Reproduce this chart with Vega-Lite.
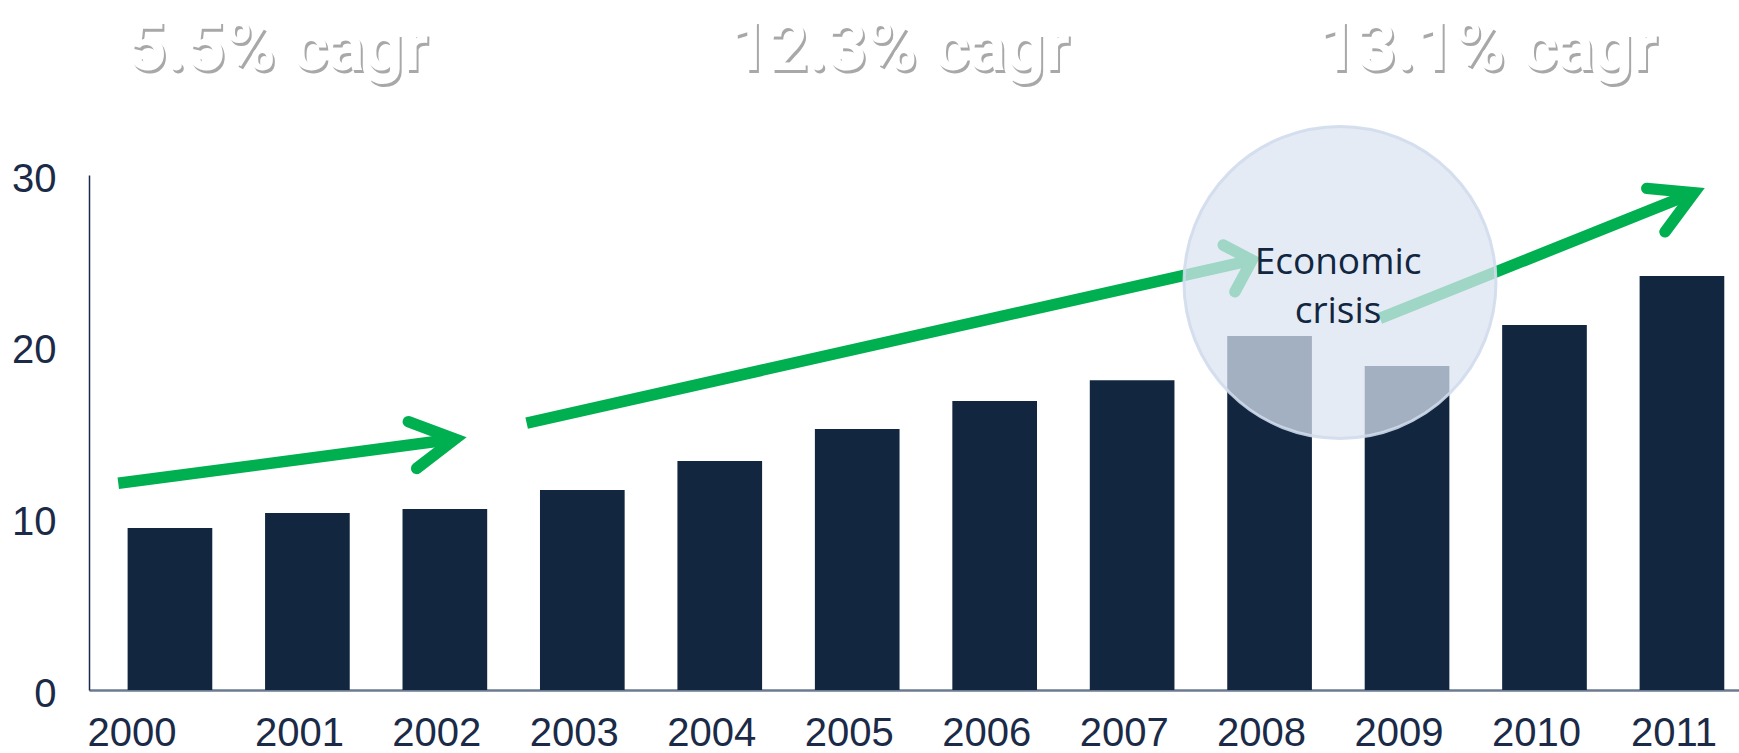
{
  "$schema": "https://vega.github.io/schema/vega-lite/v6.json",
  "autosize": {"type": "none"},
  "padding": {"left": 89, "top": 175, "right": 0, "bottom": 63},
  "width": 1650,
  "height": 515,
  "background": "#ffffff",
  "config": {"view": {"stroke": null}},
  "datasets": {
    "bars": [
      {"year": "2000", "v": 9.43},
      {"year": "2001", "v": 10.31},
      {"year": "2002", "v": 10.54},
      {"year": "2003", "v": 11.65},
      {"year": "2004", "v": 13.34},
      {"year": "2005", "v": 15.2},
      {"year": "2006", "v": 16.83},
      {"year": "2007", "v": 18.05},
      {"year": "2008", "v": 20.62},
      {"year": "2009", "v": 18.87},
      {"year": "2010", "v": 21.26},
      {"year": "2011", "v": 24.11}
    ],
    "shafts": [
      {"seg": "a1", "o": 1, "xp": 1999.624, "v": 12.04},
      {"seg": "a1", "o": 2, "xp": 2002.073, "v": 14.62},
      {"seg": "a2", "o": 1, "xp": 2002.595, "v": 15.55},
      {"seg": "a2", "o": 2, "xp": 2007.872, "v": 25.04},
      {"seg": "a3", "o": 1, "xp": 2008.803, "v": 21.65},
      {"seg": "a3", "o": 2, "xp": 2011.088, "v": 28.97}
    ],
    "heads": [
      {"seg": "a1", "o": 1, "xp": 2001.734, "v": 15.63},
      {"seg": "a1", "o": 2, "xp": 2002.073, "v": 14.62},
      {"seg": "a1", "o": 3, "xp": 2001.795, "v": 12.91},
      {"seg": "a2", "o": 1, "xp": 2007.663, "v": 25.92},
      {"seg": "a2", "o": 2, "xp": 2007.872, "v": 25.04},
      {"seg": "a2", "o": 3, "xp": 2007.748, "v": 23.2},
      {"seg": "a3", "o": 1, "xp": 2010.744, "v": 29.22},
      {"seg": "a3", "o": 2, "xp": 2011.088, "v": 28.97},
      {"seg": "a3", "o": 3, "xp": 2010.877, "v": 26.69}
    ],
    "circle": [{"xp": 2008.512, "v": 23.74}],
    "crisis": [{"xp": 2008.498, "v": 24.87, "t": "Economic\ncrisis"}],
    "titles": [
      {"xp": 2000.786, "v": 36.12, "t": "5.5% cagr"},
      {"xp": 2005.311, "v": 36.12, "t": "12.3% cagr"},
      {"xp": 2009.589, "v": 36.12, "t": "13.1% cagr"}
    ]
  },
  "resolve": {"scale": {"x": "independent"}, "axis": {"x": "independent"}},
  "layer": [
    {
      "data": {"name": "bars"},
      "mark": {"type": "bar", "color": "#12263f"},
      "encoding": {
        "x": {
          "field": "year", "type": "ordinal",
          "scale": {"paddingInner": 0.384, "paddingOuter": 0.194, "align": 0.724, "round": false},
          "axis": {
            "title": null, "ticks": false, "labelAngle": 0,
            "labelFont": "Liberation Sans", "labelFontSize": 40, "labelColor": "#1b2a47",
            "labelBaseline": "alphabetic", "labelPadding": 55,
            "labelOffset": {"condition": {"test": "datum.label == '2000'", "value": -38}, "value": -8},
            "domainColor": "#6b7a90", "domainWidth": 2.5
          }
        },
        "y": {
          "field": "v", "type": "quantitative",
          "scale": {"domain": [0, 30], "nice": false},
          "axis": {
            "title": null, "values": [0, 10, 20, 30], "ticks": false, "grid": false,
            "labelFont": "Liberation Sans", "labelFontSize": 40, "labelColor": "#1b2a47",
            "labelPadding": 33, "labelOffset": 4,
            "domainColor": "#1b2a47", "domainWidth": 1.5
          }
        }
      }
    },
    {
      "data": {"name": "shafts"},
      "mark": {"type": "line", "color": "#00b050", "strokeWidth": 11.5, "strokeCap": "butt"},
      "encoding": {
        "x": {"field": "xp", "type": "quantitative", "scale": {"domain": [1999.411, 2011.415], "nice": false, "zero": false}, "axis": null},
        "y": {"field": "v", "type": "quantitative", "scale": {"domain": [0, 30], "nice": false}},
        "detail": {"field": "seg"},
        "order": {"field": "o"}
      }
    },
    {
      "data": {"name": "heads"},
      "mark": {"type": "line", "color": "#00b050", "strokeWidth": 11.5, "strokeCap": "round", "strokeJoin": "miter"},
      "encoding": {
        "x": {"field": "xp", "type": "quantitative", "scale": {"domain": [1999.411, 2011.415], "nice": false, "zero": false}, "axis": null},
        "y": {"field": "v", "type": "quantitative", "scale": {"domain": [0, 30], "nice": false}},
        "detail": {"field": "seg"},
        "order": {"field": "o"}
      }
    },
    {
      "data": {"name": "circle"},
      "mark": {"type": "point", "shape": "circle", "filled": true, "size": 97344, "fill": "#dae3f1", "fillOpacity": 0.73, "stroke": "#d0dcec", "strokeWidth": 3, "strokeOpacity": 0.9},
      "encoding": {
        "x": {"field": "xp", "type": "quantitative", "scale": {"domain": [1999.411, 2011.415], "nice": false, "zero": false}, "axis": null},
        "y": {"field": "v", "type": "quantitative", "scale": {"domain": [0, 30], "nice": false}}
      }
    },
    {
      "data": {"name": "crisis"},
      "mark": {"type": "text", "font": "Open Sans", "fontSize": 37, "color": "#12263f", "lineBreak": "\n", "lineHeight": 49, "align": "center", "baseline": "middle"},
      "encoding": {
        "x": {"field": "xp", "type": "quantitative", "scale": {"domain": [1999.411, 2011.415], "nice": false, "zero": false}, "axis": null},
        "y": {"field": "v", "type": "quantitative", "scale": {"domain": [0, 30], "nice": false}},
        "text": {"field": "t"}
      }
    },
    {
      "data": {"name": "titles"},
      "mark": {"type": "text", "font": "Roboto", "fontWeight": "bold", "fontSize": 68, "color": "#8c8c8c", "opacity": 0.75, "dx": 2, "dy": 3, "align": "center", "baseline": "alphabetic"},
      "encoding": {
        "x": {"field": "xp", "type": "quantitative", "scale": {"domain": [1999.411, 2011.415], "nice": false, "zero": false}, "axis": null},
        "y": {"field": "v", "type": "quantitative", "scale": {"domain": [0, 30], "nice": false}},
        "text": {"field": "t"}
      }
    },
    {
      "data": {"name": "titles"},
      "mark": {"type": "text", "font": "Roboto", "fontWeight": "bold", "fontSize": 68, "color": "#ffffff", "align": "center", "baseline": "alphabetic"},
      "encoding": {
        "x": {"field": "xp", "type": "quantitative", "scale": {"domain": [1999.411, 2011.415], "nice": false, "zero": false}, "axis": null},
        "y": {"field": "v", "type": "quantitative", "scale": {"domain": [0, 30], "nice": false}},
        "text": {"field": "t"}
      }
    }
  ]
}
